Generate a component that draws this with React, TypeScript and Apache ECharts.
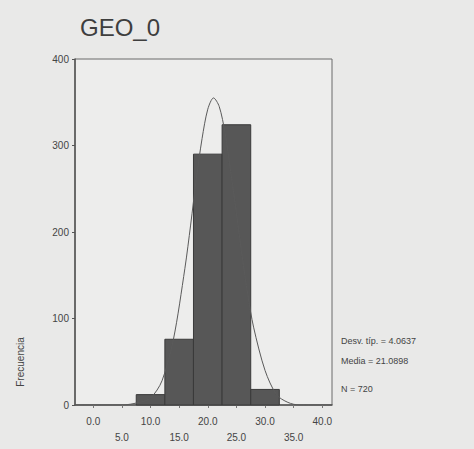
import React, { useEffect, useRef } from "react";
import * as echarts from "echarts";

const title = "GEO_0";
const yAxisName = "Frecuencia";
const binCenters = [10, 15, 20, 25, 30];
const binCounts = [12, 76, 290, 324, 18];
const binWidth = 5;
const xTicks = [0, 5, 10, 15, 20, 25, 30, 35, 40];
const curveX = [-3.2, 5, 8, 10, 12, 14, 16, 17, 18, 19, 20, 21, 22, 23, 24, 25, 26, 27, 28, 30, 32, 34, 36, 41.7];
const curveY = [0, 0, 3, 8, 28, 76, 158, 208, 262, 308, 342, 355, 345, 315, 270, 222, 172, 127, 90, 40, 12, 3, 0, 0];
const statLines = ["Desv. típ. = 4.0637", "Media = 21.0898", "N = 720"];

export default function App() {
  const ref = useRef<HTMLDivElement>(null);
  useEffect(() => {
    const chart = echarts.init(ref.current!, null, { renderer: "svg" });
    const textColor = "#444444";
    chart.setOption({
      animation: false,
      backgroundColor: "#e9e9e8",
      title: {
        text: title,
        left: 75,
        top: 10,
        textStyle: { fontFamily: "Liberation Sans", fontSize: 24, fontWeight: "normal", color: "#3e3e3e" },
      },
      grid: {
        left: 75,
        right: 142,
        top: 59,
        bottom: 44,
        show: true,
        borderColor: "#6a6a6a",
        borderWidth: 1,
        backgroundColor: "#ededec",
      },
      xAxis: {
        type: "value",
        min: -3.2,
        max: 41.7,
        splitLine: { show: false },
        axisLine: { show: true, onZero: false, lineStyle: { color: "#555", width: 1.5 } },
        axisTick: { show: true, customValues: xTicks, length: 3, lineStyle: { color: "#777" } },
        axisLabel: {
          customValues: xTicks,
          margin: 8,
          fontFamily: "Liberation Sans",
          fontSize: 10,
          color: textColor,
          lineHeight: 16,
          formatter: (v: number) => {
            const i = xTicks.indexOf(Math.round(v));
            const s = v.toFixed(1);
            return i % 2 === 1 ? "\n" + s : s;
          },
        },
      },
      yAxis: {
        type: "value",
        min: 0,
        max: 400,
        interval: 100,
        splitLine: { show: false },
        axisLine: { show: true, onZero: false, lineStyle: { color: "#555", width: 1.5 } },
        axisTick: { show: true, length: 3, lineStyle: { color: "#555" } },
        axisLabel: { fontFamily: "Liberation Sans", fontSize: 10, color: textColor, margin: 6 },
      },
      graphic: [
        {
          type: "text",
          x: 20,
          y: 362,
          rotation: Math.PI / 2,
          style: {
            text: yAxisName,
            fontFamily: "Liberation Sans",
            fontSize: 10,
            fill: textColor,
            textAlign: "center",
            textVerticalAlign: "middle",
          },
        },
        ...statLines.map((t, i) => ({
          type: "text",
          left: 341,
          top: [336, 356, 384][i],
          style: { text: t, fontFamily: "Liberation Sans", fontSize: 9, fill: textColor },
        })),
      ],
      series: [
        {
          type: "custom",
          data: binCenters.map((c, i) => [c, binCounts[i]]),
          renderItem: (params: any, api: any) => {
            const c = api.value(0);
            const v = api.value(1);
            const p1 = api.coord([c - binWidth / 2, v]);
            const p2 = api.coord([c + binWidth / 2, 0]);
            return {
              type: "rect",
              shape: { x: p1[0], y: p1[1], width: p2[0] - p1[0], height: p2[1] - p1[1] },
              style: { fill: "#575757", stroke: "#3a3a3a", lineWidth: 1 },
            };
          },
          z: 2,
        },
        {
          type: "line",
          data: curveX.map((x, i) => [x, curveY[i]]),
          smooth: 0.3,
          showSymbol: false,
          lineStyle: { color: "#5a5a5a", width: 1 },
          z: 3,
        },
      ],
    });
    return () => chart.dispose();
  }, []);
  return <div ref={ref} style={{ position: "fixed", left: 0, top: 0, width: 474, height: 449 }} />;
}
